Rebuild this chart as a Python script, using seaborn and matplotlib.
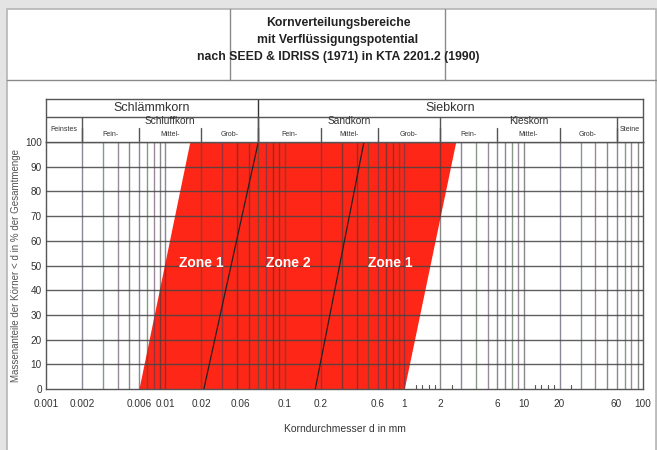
import numpy as np
import matplotlib
matplotlib.use('Agg')
import matplotlib.pyplot as plt
import matplotlib.transforms as mtransforms
import seaborn as sns
from matplotlib.patches import Rectangle

# Chart values
pct = [0, 100]
bound_fine = [0.006, 0.016]     # fine boundary of zone 1
bound_coarse = [1.0, 2.7]       # coarse boundary of zone 1
divider_a = [0.021, 0.06]       # zone 1 / zone 2
divider_b = [0.18, 0.46]        # zone 2 / zone 1

zone_names = ['Zone 1', 'Zone 2', 'Zone 1']
zone_x = [0.02, 0.106, 0.76]
zone_y = [51, 51, 51]

tick_values = [0.001, 0.002, 0.006, 0.01, 0.02, 0.06, 0.1, 0.2, 0.6, 1, 2, 6, 10, 20, 60, 100]
tick_labels = ['0.001', '0.002', '0.006', '0.01', '0.02', '0.06', '0.1', '0.2', '0.6',
               '1', '2', '6', '10', '20', '60', '100']
small_ticks = [1.25, 1.4, 1.6, 1.8, 2.5, 12.5, 14, 16, 18, 25]

main_groups = ['Schlämmkorn', 'Siebkorn']
main_bounds = [0.001, 0.06, 100]
soil_groups = ['Feinstes', 'Schluffkorn', 'Sandkorn', 'Kieskorn', 'Steine']
soil_bounds = [0.001, 0.002, 0.06, 2, 60, 100]
sub_labels = ['Fein-', 'Mittel-', 'Grob-'] * 3
sub_bounds = [0.002, 0.006, 0.02, 0.06, 0.2, 0.6, 2, 6, 20, 60]

title_lines = ['Kornverteilungsbereiche', 'mit Verflüssigungspotential',
               'nach SEED & IDRISS (1971) in KTA 2201.2 (1990)']

sns.set_theme(style='white')
plt.rcParams['font.family'] = ['Liberation Sans', 'DejaVu Sans']

W, H = 657, 450
fig = plt.figure(figsize=(W / 100, H / 100), dpi=100)
fig.patch.set_facecolor('#e4e4e4')

def fx(px):
    return px / W

def fy(py):
    return 1 - py / H

# page + title box
fig.add_artist(Rectangle((fx(7), fy(452)), fx(649), 443 / H, transform=fig.transFigure,
                         facecolor='white', edgecolor='#b5b5b5', lw=1.2, zorder=0))
fig.add_artist(plt.Line2D([fx(7), fx(657)], [fy(80), fy(80)], transform=fig.transFigure,
                          color='#8a8a8a', lw=1))
for xp in [230, 445]:
    fig.add_artist(plt.Line2D([fx(xp), fx(xp)], [fy(9), fy(80)], transform=fig.transFigure,
                              color='#8a8a8a', lw=1))
for yp, line in zip([23, 40, 57], title_lines):
    fig.text(fx(338), fy(yp), line, ha='center', va='center',
             fontsize=8.8, fontweight='bold', color='#222222')

left, right, top, bottom = 46, 643, 142, 389
ax = fig.add_axes([fx(left), fy(bottom), (right - left) / W, (bottom - top) / H])
ax.set_xscale('log')
ax.set_xlim(0.001, 100)
ax.set_ylim(0, 100)

# red area and zone dividers
ax.fill_betweenx(pct, bound_fine, bound_coarse, color='#fe2616', lw=0, zorder=1)
sns.lineplot(x=divider_a, y=pct, ax=ax, color='#222222', lw=0.9, zorder=4, sort=False)
sns.lineplot(x=divider_b, y=pct, ax=ax, color='#222222', lw=0.9, zorder=4, sort=False)

# vertical grid (log minor lines)
grid_colors = ['#3a3a55', '#3a553a', '#553a55', '#3a3a3a']
k = 0
for dec in [0.001, 0.01, 0.1, 1, 10]:
    for m in range(1, 10):
        v = dec * m
        if v <= 0.0015 or v >= 100:
            continue
        ax.axvline(v, color=grid_colors[k % 4], alpha=0.6, lw=1.0, zorder=3)
        k += 1
for v in range(10, 100, 10):
    ax.axhline(v, color='#444444', lw=1.0, alpha=0.85, zorder=3)

for xv, yv, name in zip(zone_x, zone_y, zone_names):
    ax.text(xv, yv, name, ha='center', va='center', color='white', fontsize=10,
            fontweight='bold', zorder=5)

for s in small_ticks:
    ax.plot([s, s], [0, 1.6], color='#555555', lw=0.8, zorder=3)

ax.set_xticks(tick_values)
ax.set_xticklabels(tick_labels)
ax.xaxis.set_minor_locator(matplotlib.ticker.NullLocator())
ax.set_yticks(range(0, 101, 10))
ax.tick_params(axis='both', length=0, labelsize=7.2, colors='#333333')
ax.tick_params(axis='x', pad=7)
ax.tick_params(axis='y', pad=3)
# the 0.06 label sits left of its line in the original
for lab in ax.get_xticklabels():
    if lab.get_text() == '0.06':
        lab.set_transform(lab.get_transform() +
                          mtransforms.ScaledTranslation(-0.18, 0, fig.dpi_scale_trans))
ax.set_xlabel('Korndurchmesser d in mm', fontsize=7.5, color='#333333', labelpad=11)
ax.set_ylabel('Massenanteile der Körner < d in % der Gesamtmenge', fontsize=7,
              color='#555555', labelpad=3)
for sp in ax.spines.values():
    sp.set_color('#555555')
    sp.set_linewidth(1)

# header table
hax = fig.add_axes([fx(left), fy(top), (right - left) / W, (top - 99) / H])
hax.set_xscale('log')
hax.set_xlim(0.001, 100)
hax.set_ylim(0, 1)
hax.set_xticks([])
hax.set_yticks([])
hax.xaxis.set_minor_locator(matplotlib.ticker.NullLocator())
for sp in hax.spines.values():
    sp.set_color('#555555')
    sp.set_linewidth(1)
row = (top - 117) / (top - 99)
sub_top = (top - 128) / (top - 99)
hax.axhline(row, color='#555555', lw=1)
hax.axvline(main_bounds[1], color='#333333', lw=1)
for b in soil_bounds[1:-1]:
    hax.plot([b, b], [0, row], color='#555555', lw=1)
for b in sub_bounds:
    hax.plot([b, b], [0, sub_top], color='#555555', lw=1)

def mid(a, b):
    return np.sqrt(a * b)

for i, name in enumerate(main_groups):
    hax.text(mid(main_bounds[i], main_bounds[i + 1]), (1 + row) / 2, name, ha='center',
             va='center', fontsize=9, color='#333333')
for i, name in enumerate(soil_groups):
    a, b = soil_bounds[i], soil_bounds[i + 1]
    if name in ('Feinstes', 'Steine'):
        hax.text(mid(a, b), row / 2, name, ha='center', va='center', fontsize=5,
                 color='#333333')
    else:
        hax.text(mid(a, b), (row + sub_top) / 2 + 0.03, name, ha='center', va='center',
                 fontsize=7.3, color='#333333')
for i, name in enumerate(sub_labels):
    hax.text(mid(sub_bounds[i], sub_bounds[i + 1]), sub_top / 2, name, ha='center',
             va='center', fontsize=5, color='#333333')

fig.savefig('out.png', dpi=100, facecolor=fig.get_facecolor())
